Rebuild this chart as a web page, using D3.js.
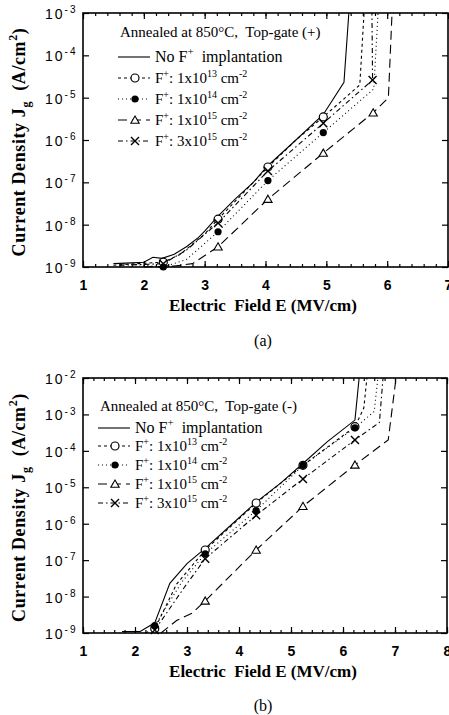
<!DOCTYPE html>
<html>
<head>
<meta charset="utf-8">
<script src="https://cdn.jsdelivr.net/npm/d3@7"></script>
<style>
  body { margin: 0; background: #fff; }
  svg { display: block; }
  text { white-space: pre; }
</style>
</head>
<body>
<div class="canvas"></div>
<script>
// ---- panel (a): annealed at 850C, top-gate (+) ----  [E (MV/cm), Jg (A/cm2)]
const aNoF  = [[1.5,1.2e-9],[1.8,1.25e-9],[2.0,1.3e-9],[2.15,1.7e-9],[2.3,1.6e-9],[2.5,2e-9],[2.7,3e-9],[2.9,5e-9],[3.0,7e-9],[3.22,1.6e-8],[3.5,4e-8],[3.8,1e-7],[4.03,2.4e-7],[4.5,1e-6],[4.95,4e-6],[5.29,2.3e-5],[5.37,1e-3]];
const a13   = [[1.5,1.1e-9],[1.9,1.2e-9],[2.32,1.3e-9],[2.6,2e-9],[3.0,6e-9],[3.22,1.35e-8],[3.6,5e-8],[4.04,2.3e-7],[4.5,1e-6],[4.95,3.5e-6],[5.55,2e-5],[5.62,1e-3]];
const a14   = [[1.6,1.2e-9],[2.0,1.1e-9],[2.32,1.0e-9],[2.7,1.5e-9],[3.22,6.8e-9],[4.04,1.1e-7],[4.95,1.5e-6],[5.78,1.6e-5],[5.85,1e-3]];
const a15   = [[2.0,1.0e-9],[2.5,1.05e-9],[2.8,1.2e-9],[3.22,3e-9],[4.04,4e-8],[4.95,4.9e-7],[5.77,4.4e-6],[6.02,1e-5],[6.08,1e-3]];
const a3e15 = [[1.6,1.1e-9],[2.0,1.15e-9],[2.32,1.2e-9],[2.7,2.5e-9],[3.22,1.1e-8],[4.04,1.85e-7],[4.95,2.5e-6],[5.76,2.6e-5],[5.75,1e-3]];
// measured points (markers)
const a13Pts   = [[2.32,1.3e-9],[3.22,1.35e-8],[4.04,2.3e-7],[4.95,3.5e-6]];
const a14Pts   = [[2.32,1.0e-9],[3.22,6.8e-9],[4.04,1.1e-7],[4.95,1.5e-6]];
const a15Pts   = [[3.22,3e-9],[4.04,4e-8],[4.95,4.9e-7],[5.77,4.4e-6]];
const a3e15Pts = [[2.32,1.2e-9],[3.22,1.1e-8],[4.04,1.85e-7],[4.95,2.5e-6],[5.76,2.6e-5]];

// ---- panel (b): annealed at 850C, top-gate (-) ----
const bNoF  = [[1.75,1.1e-9],[2.1,1.1e-9],[2.38,1.9e-9],[2.67,2.3e-8],[3.0,8e-8],[3.35,2.1e-7],[3.8,8e-7],[4.33,3.9e-6],[4.8,1.3e-5],[5.23,4.5e-5],[5.7,1.8e-4],[6.23,7e-4],[6.31,1e-2]];
const b13   = [[2.2,1.0e-9],[2.38,1.3e-9],[2.8,2.2e-8],[3.35,1.9e-7],[4.33,3.7e-6],[5.23,4e-5],[6.23,4.6e-4],[6.4,1.5e-3],[6.46,1e-2]];
const b14   = [[2.38,1.6e-9],[2.9,2.5e-8],[3.35,1.5e-7],[4.33,2.3e-6],[5.23,4e-5],[6.23,4.3e-4],[6.6,1.2e-3],[6.67,1e-2]];
const b15   = [[2.5,1e-9],[2.8,2.2e-9],[3.1,3.5e-9],[3.35,7.6e-9],[4.33,1.9e-7],[5.23,3e-6],[6.23,4.1e-5],[6.87,2e-4],[7.02,1e-2]];
const b3e15 = [[2.38,1.2e-9],[2.95,1.8e-8],[3.35,1.1e-7],[4.33,1.7e-6],[5.23,1.7e-5],[6.23,2e-4],[6.7,6e-4],[6.77,1e-2]];
const b13Pts   = [[2.38,1.3e-9],[3.35,1.9e-7],[4.33,3.7e-6],[5.23,4e-5],[6.23,4.6e-4]];
const b14Pts   = [[2.38,1.6e-9],[3.35,1.5e-7],[4.33,2.3e-6],[5.23,4e-5],[6.23,4.3e-4]];
const b15Pts   = [[3.35,7.6e-9],[4.33,1.9e-7],[5.23,3e-6],[6.23,4.1e-5]];
const b3e15Pts = [[2.38,1.2e-9],[3.35,1.1e-7],[4.33,1.7e-6],[5.23,1.7e-5],[6.23,2e-4]];

// legend text
const doseCoef = ['1', '1', '1', '3'];
const doseExp  = ['13', '14', '15', '15'];

const SERIF = '"Liberation Serif","Times New Roman",serif';
const SANS  = '"Liberation Sans",Arial,sans-serif';

// line style + marker per series: noF, 1e13, 1e14, 1e15, 3e15
const styles = [
  { dash: null,        marker: null },
  { dash: '3,3',       marker: 'circle' },
  { dash: '1,3',       marker: 'dot' },
  { dash: '9,5',       marker: 'tri' },
  { dash: '5,3,1.5,3', marker: 'cross' }
];

const svg = d3.select('.canvas').append('svg')
  .attr('width', 449)
  .attr('height', 715);

// text with super/subscripts: parts = [[str, 'n'|'sup'|'sub'], ...]
function rich(t, parts, size) {
  let shift = 0;
  parts.forEach(([s, k]) => {
    const target = k === 'sup' ? -0.42 * size : k === 'sub' ? 0.3 * size : 0;
    t.append('tspan')
      .attr('dy', target - shift)
      .style('font-size', k === 'n' ? size + 'px' : Math.round(size * 0.68) + 'px')
      .text(s);
    shift = target;
  });
}

function drawMarker(g, type, cx, cy) {
  if (type === 'circle') {
    g.append('circle').attr('cx', cx).attr('cy', cy).attr('r', 4)
      .attr('fill', '#fff').attr('stroke', '#000').attr('stroke-width', 1.2);
  } else if (type === 'dot') {
    g.append('circle').attr('cx', cx).attr('cy', cy).attr('r', 3.6).attr('fill', '#000');
  } else if (type === 'tri') {
    g.append('path').attr('transform', `translate(${cx},${cy + 0.8})`)
      .attr('d', d3.symbol(d3.symbolTriangle, 30)())
      .attr('fill', '#fff').attr('stroke', '#000').attr('stroke-width', 1.1);
  } else if (type === 'cross') {
    g.append('path').attr('d', `M${cx-4},${cy-4}L${cx+4},${cy+4}M${cx-4},${cy+4}L${cx+4},${cy-4}`)
      .attr('stroke', '#000').attr('stroke-width', 1.4);
  }
}

function panel(p) {
  const x = d3.scaleLinear().domain([1, p.xMax]).range([83, p.right]);
  const y = d3.scaleLog().domain([1e-9, p.yTop]).range([p.bottom, p.top]);
  const g = svg.append('g');

  const minor = d3.range(1, p.xMax + 0.01, 0.2);
  const major = d3.range(1, p.xMax + 0.01, 1);
  const decades = d3.range(-9, Math.log10(p.yTop) + 0.5).map(e => Math.pow(10, e));

  const clean = sel => { sel.select('.domain').remove(); sel.selectAll('line').attr('stroke-width', 1.2); };

  // inward ticks on all four sides
  g.append('g').attr('transform', `translate(0,${p.bottom})`)
    .call(d3.axisBottom(x).tickValues(minor).tickSize(-3).tickFormat('')).call(clean);
  g.append('g').attr('transform', `translate(0,${p.bottom})`)
    .call(d3.axisBottom(x).tickValues(major).tickSize(-6).tickPadding(13).tickFormat(d3.format('d')))
    .call(clean)
    .selectAll('text').style('font-family', SANS).style('font-size', '14px')
      .style('font-weight', 'bold').attr('fill', '#000');
  g.append('g').attr('transform', `translate(0,${p.top})`)
    .call(d3.axisTop(x).tickValues(minor).tickSize(-3).tickFormat('')).call(clean);
  g.append('g').attr('transform', `translate(0,${p.top})`)
    .call(d3.axisTop(x).tickValues(major).tickSize(-6).tickFormat('')).call(clean);
  g.append('g').attr('transform', `translate(83,0)`)
    .call(d3.axisLeft(y).tickValues(decades).tickSize(-6).tickFormat('')).call(clean);
  g.append('g').attr('transform', `translate(${p.right},0)`)
    .call(d3.axisRight(y).tickValues(decades).tickSize(-6).tickFormat('')).call(clean);

  // frame
  g.append('rect').attr('x', 83).attr('y', p.top)
    .attr('width', p.right - 83).attr('height', p.bottom - p.top)
    .attr('fill', 'none').attr('stroke', '#000').attr('stroke-width', 1.6);

  // y tick labels 10^n
  decades.forEach(d => {
    const t = g.append('text').attr('x', 45).attr('y', y(d) + 6)
      .style('font-family', SANS).style('letter-spacing', '2px');
    rich(t, [['10', 'n'], [String(Math.round(Math.log10(d))), 'sup']], 14);
  });

  // axis titles
  g.append('text').attr('x', 263).attr('y', p.bottom + 44)
    .attr('text-anchor', 'middle')
    .style('font-family', SERIF).style('font-size', '17px').style('font-weight', 'bold')
    .text('Electric  Field E (MV/cm)');
  const yt = g.append('text')
    .attr('transform', `translate(25,${(p.top + p.bottom) / 2 + 2}) rotate(-90)`)
    .attr('text-anchor', 'middle')
    .style('font-family', SERIF).style('font-weight', 'bold').style('letter-spacing', '0.6px');
  rich(yt, [['Current Density J', 'n'], ['g', 'sub'], ['  (A/cm', 'n'], ['2', 'sup'], [')', 'n']], 18);
  g.append('text').attr('x', 263).attr('y', p.captionY)
    .attr('text-anchor', 'middle')
    .style('font-family', SERIF).style('font-size', '16px')
    .text(p.caption);

  // curves
  const line = d3.line().x(d => x(d[0])).y(d => y(d[1]));
  p.lines.forEach((ln, i) => {
    g.append('path').datum(ln).attr('d', line)
      .attr('fill', 'none').attr('stroke', '#000').attr('stroke-width', 1.1)
      .attr('stroke-dasharray', styles[i].dash);
  });
  p.points.forEach((pts, i) => {
    pts.forEach(d => drawMarker(g, styles[i + 1].marker, x(d[0]), y(d[1])));
  });

  // legend
  const lg = g.append('g').style('font-family', SERIF);
  rich(lg.append('text').attr('x', p.lgX).attr('y', p.lgTitleY), [[p.title, 'n']], 15);
  p.lgRows.forEach((ry, i) => {
    lg.append('line').attr('x1', p.lgX - 2).attr('x2', p.lgX + 30).attr('y1', ry).attr('y2', ry)
      .attr('stroke', '#000').attr('stroke-width', 1.1).attr('stroke-dasharray', styles[i].dash);
    const t = lg.append('text').attr('x', p.lgX + 35).attr('y', ry + 5);
    if (i === 0) {
      rich(t, [['No F', 'n'], ['+', 'sup'], ['  implantation', 'n']], 16);
    } else {
      drawMarker(lg, styles[i].marker, p.lgX + 15, ry);
      rich(t, [['F', 'n'], ['+', 'sup'], [': ' + doseCoef[i - 1] + 'x10', 'n'], [doseExp[i - 1], 'sup'],
               [' cm', 'n'], ['-2', 'sup']], 15);
    }
  });
}

panel({
  xMax: 7, right: 448, top: 13, bottom: 267, yTop: 1e-3,
  lines: [aNoF, a13, a14, a15, a3e15],
  points: [a13Pts, a14Pts, a15Pts, a3e15Pts],
  title: 'Annealed at 850°C,  Top-gate (+)',
  lgX: 120, lgTitleY: 37, lgRows: [57, 78, 99, 120, 141],
  caption: '(a)', captionY: 346
});

panel({
  xMax: 8, right: 447, top: 378, bottom: 633, yTop: 1e-2,
  lines: [bNoF, b13, b14, b15, b3e15],
  points: [b13Pts, b14Pts, b15Pts, b3e15Pts],
  title: 'Annealed at 850°C,  Top-gate (-)',
  lgX: 100, lgTitleY: 411, lgRows: [428, 446, 465, 484, 503],
  caption: '(b)', captionY: 711
});
</script>
</body>
</html>
